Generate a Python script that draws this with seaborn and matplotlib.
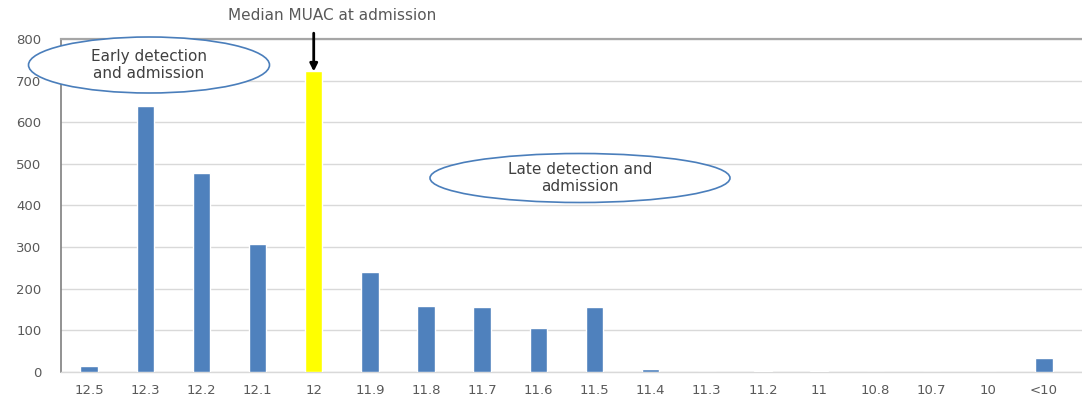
import matplotlib
matplotlib.use("Agg")
import matplotlib.pyplot as plt
from matplotlib.patches import Ellipse
import seaborn as sns
import pandas as pd

# MUAC at admission (cm) and number of children admitted
muac = ["12.5", "12.3", "12.2", "12.1", "12", "11.9", "11.8", "11.7", "11.6",
        "11.5", "11.4", "11.3", "11.2", "11", "10.8", "10.7", "10", "<10"]
children = [14, 640, 477, 307, 722, 240, 159, 155, 106,
            156, 7, 0, 2, 2, 0, 0, 0, 34]
median_muac = "12"

BLUE = "#4F81BD"
YELLOW = "#FFFF00"
bar_colors = {m: (YELLOW if m in (median_muac, "11.2") else BLUE) for m in muac}

df = pd.DataFrame({"muac": muac, "children": children})

sns.set_theme(style="white")
plt.rcParams["font.family"] = ["DejaVu Sans"]

fig = plt.figure(figsize=(10.82, 4.03), dpi=100)
ax = fig.add_axes([61 / 1082, 31 / 403, (1082 - 61) / 1082, 333 / 403])

sns.barplot(data=df, x="muac", y="children", hue="muac", order=muac,
            palette=bar_colors, legend=False, width=0.31, saturation=1,
            ax=ax, zorder=3)

ax.set_xlim(-0.5, 17.68)
ax.set_ylim(0, 800)
ax.set_yticks(range(0, 801, 100))
ax.yaxis.grid(True, color="#d9d9d9", lw=1, zorder=0)
ax.set_axisbelow(True)
ax.set_xlabel("")
ax.set_ylabel("")
ax.tick_params(axis="both", length=0, colors="#595959", labelsize=9.5)
ax.tick_params(axis="x", pad=9)
ax.tick_params(axis="y", pad=14)

ax.spines["right"].set_visible(False)
ax.spines["left"].set_color("#7f7f7f")
ax.spines["left"].set_linewidth(1.2)
ax.spines["top"].set_color("#a6a6a6")
ax.spines["top"].set_linewidth(1.6)
ax.spines["bottom"].set_color("#d9d9d9")
ax.spines["bottom"].set_linewidth(1)

# Callout ellipses
for (cx, cy, w, h, label) in [
    (149, 65, 241, 56, "Early detection\nand admission"),
    (580, 178, 300, 49, "Late detection and\nadmission"),
]:
    ell = Ellipse((cx / 1082, 1 - cy / 403), w / 1082, h / 403,
                  transform=fig.transFigure, facecolor="white",
                  edgecolor="#4A7EBB", lw=1.2, zorder=5)
    fig.add_artist(ell)
    fig.text(cx / 1082, 1 - cy / 403, label, ha="center", va="center",
             fontsize=11, color="#404040", linespacing=1.15, zorder=6)

# Median marker
med_idx = muac.index(median_muac)
ax.annotate("", xy=(med_idx, children[med_idx]), xycoords="data",
            xytext=(med_idx, 800 + 14), textcoords="data",
            arrowprops=dict(arrowstyle="-|>", color="black", lw=2,
                            mutation_scale=11, shrinkA=0, shrinkB=0),
            annotation_clip=False, zorder=7)
fig.text(332 / 1082, 1 - 15 / 403, "Median MUAC at admission", ha="center",
         va="center", fontsize=11, color="#595959")

fig.savefig("out.png", dpi=100)
